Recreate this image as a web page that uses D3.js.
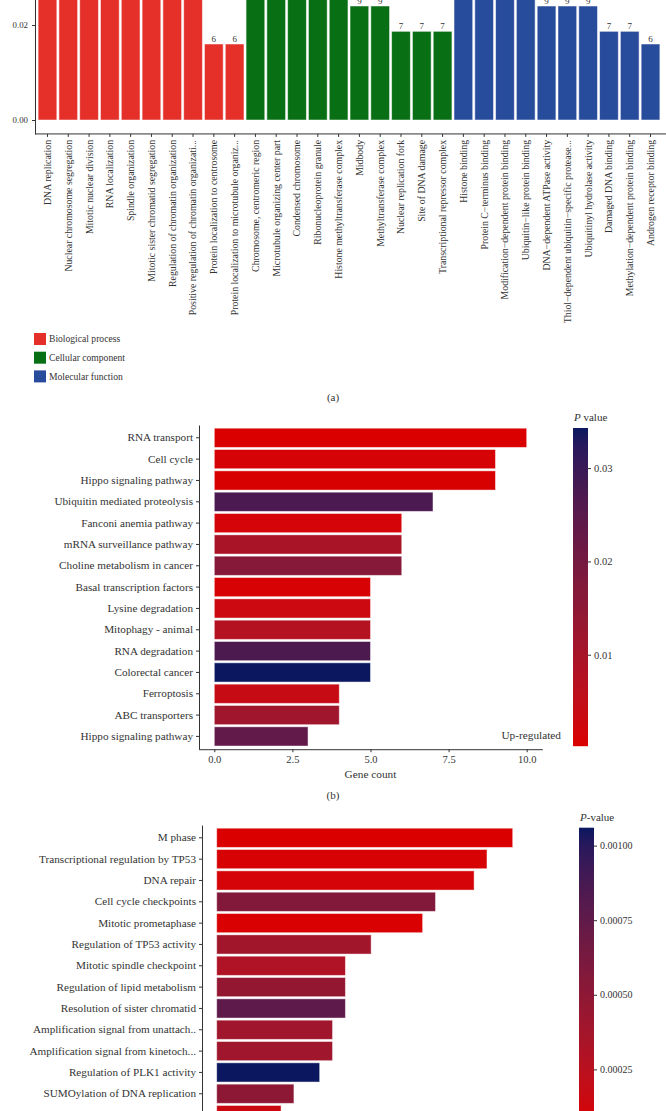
<!DOCTYPE html>
<html lang="en">
<head>
    <meta charset="UTF-8">
    <title>GO / KEGG / Reactome enrichment</title>
    <script src="https://d3js.org/d3.v7.min.js"></script>
    <style>
        body {margin: 0; background: #fff;}
        svg {display: block; font-family: "Liberation Serif", "DejaVu Serif", serif;}
    </style>
</head>
<body>
<script>
    const width = 666;
    const height = 1111;

    // ---- panel (a): GO terms ----
    const goTerms = [
        "DNA replication", "Nuclear chromosome segregation", "Mitotic nuclear division", "RNA localization",
        "Spindle organization", "Mitotic sister chromatid segregation", "Regulation of chromatin organization",
        "Positive regulation of chromatin organizati...", "Protein localization to centrosome",
        "Protein localization to microtubule organiz...",
        "Chromosome, centromeric region", "Microtubule organizing center part", "Condensed chromosome",
        "Ribonucleoprotein granule", "Histone methyltransferase complex", "Midbody", "Methyltransferase complex",
        "Nuclear replication fork", "Site of DNA damage", "Transcriptional repressor complex",
        "Histone binding", "Protein C\u2212terminus binding", "Modification\u2212dependent protein binding",
        "Ubiquitin\u2212like protein binding", "DNA\u2212dependent ATPase activity",
        "Thiol\u2212dependent ubiquitin\u2212specific protease...", "Ubiquitinyl hydrolase activity",
        "Damaged DNA binding", "Methylation\u2212dependent protein binding", "Androgen receptor binding"
    ];
    const goCategory = [
        "BP","BP","BP","BP","BP","BP","BP","BP","BP","BP",
        "CC","CC","CC","CC","CC","CC","CC","CC","CC","CC",
        "MF","MF","MF","MF","MF","MF","MF","MF","MF","MF"
    ];
    // gene counts (tall bars run off the top of the picture, estimated)
    const goCount = [
        22, 16, 14, 13, 12, 12, 11, 11, 6, 6,
        15, 13, 12, 11, 10, 9, 9, 7, 7, 7,
        16, 13, 12, 11, 9, 9, 9, 7, 7, 6
    ];
    const goTotal = 375;
    const categoryNames = ["Biological process", "Cellular component", "Molecular function"];
    const categoryKeys  = ["BP", "CC", "MF"];
    const categoryColors = ["#e5302a", "#086f14", "#284c9c"];

    // ---- panel (b): KEGG, up-regulated ----
    const keggTerms = [
        "RNA transport", "Cell cycle", "Hippo signaling pathway", "Ubiquitin mediated proteolysis",
        "Fanconi anemia pathway", "mRNA surveillance pathway", "Choline metabolism in cancer",
        "Basal transcription factors", "Lysine degradation", "Mitophagy - animal", "RNA degradation",
        "Colorectal cancer", "Ferroptosis", "ABC transporters", "Hippo signaling pathway "
    ];
    const keggCount = [10, 9, 9, 7, 6, 6, 6, 5, 5, 5, 5, 5, 4, 4, 3];
    const keggP = [0.0002, 0.0012, 0.0006, 0.0275, 0.0014, 0.0095, 0.0165, 0.0008, 0.0030,
                   0.0075, 0.0270, 0.0343, 0.0040, 0.0115, 0.0235];
    const keggXTicks = [0, 2.5, 5, 7.5, 10];
    const keggPTicks = [0.01, 0.02, 0.03];

    // ---- panel (c): Reactome ----
    const reacTerms = [
        "M phase", "Transcriptional regulation by TP53", "DNA repair", "Cell cycle checkpoints",
        "Mitotic prometaphase", "Regulation of TP53 activity", "Mitotic spindle checkpoint",
        "Regulation of lipid metabolism", "Resolution of sister chromatid",
        "Amplification signal from unattach..", "Amplification signal from kinetoch...",
        "Regulation of PLK1 activity", "SUMOylation of DNA replication", "Separation of sister chromatids"
    ];
    const reacCount = [23, 21, 20, 17, 16, 12, 10, 10, 10, 9, 9, 8, 6, 5];
    const reacP = [0.000064, 0.00008, 0.0001, 0.00056, 0.00007, 0.00038, 0.00031, 0.00046,
                   0.00076, 0.0004, 0.0004, 0.00106, 0.0005, 0.00015];
    const reacPTicks = [0.00025, 0.0005, 0.00075, 0.001];

    const lowColor = "#da0000";
    const highColor = "#0b1860";
    const textColor = "#333";

    const svg = d3.select("body").append("svg")
            .attr("width", width).attr("height", height);

    svg.append("rect").attr("width", width).attr("height", height).attr("fill", "white");

    drawGo();
    drawPathway({
        terms: keggTerms, counts: keggCount, pvals: keggP,
        top: 425, step: 21.33, axisX: 199, zeroX: 214.3, unit: 31.24, xMax: 10,
        xTicks: keggXTicks, pTicks: keggPTicks, pFormat: d3.format(".2f"), pFont: 10.5,
        barX: [573, 588], barTop: 428, pTitle: " value",
        xTitle: "Gene count", tag: "(b)", note: "Up-regulated"
    });
    drawPathway({
        terms: reacTerms, counts: reacCount, pvals: reacP,
        top: 825, step: 21.33, axisX: 202, zeroX: 216.7, unit: 12.87, xMax: 23,
        xTicks: [0, 5, 10, 15, 20], pTicks: reacPTicks, pFormat: d3.format(".5f"), pFont: 10,
        barX: [579, 594], barTop: 827.7, pTitle: "-value",
        xTitle: "Gene count", tag: "(c)", note: null
    });

    function drawGo() {
        const ratios = goCount.map(c => c / goTotal);
        const maxR = d3.max(ratios);
        const pxPerUnit = 4750;       // 0.01 -> 47.5 px
        const zeroY = 120;
        const y = d3.scaleLinear()
                .domain([-0.05 * maxR, 1.05 * maxR])
                .range([zeroY + 0.05 * maxR * pxPerUnit, zeroY - 1.05 * maxR * pxPerUnit]);
        const x = d3.scaleBand()
                .domain(goTerms)
                .range([35, 663])
                .paddingInner(0.1)
                .paddingOuter(0.15);
        const color = d3.scaleOrdinal().domain(categoryKeys).range(categoryColors);
        const bottom = y.range()[0];

        const g = svg.append("g").attr("class", "go");

        g.selectAll("rect.bar")
                .data(goTerms)
                .enter().append("rect")
                .attr("class", "bar")
                .attr("x", d => x(d))
                .attr("width", x.bandwidth())
                .attr("y", (d, i) => y(ratios[i]))
                .attr("height", (d, i) => y(0) - y(ratios[i]))
                .attr("fill", (d, i) => color(goCategory[i]))
                .attr("stroke", "white")
                .attr("stroke-opacity", 0.55)
                .attr("stroke-width", 0.9);

        g.selectAll("text.count")
                .data(goTerms)
                .enter().append("text")
                .attr("class", "count")
                .attr("x", d => x(d) + x.bandwidth() / 2)
                .attr("y", (d, i) => y(ratios[i]) - 2.5)
                .attr("text-anchor", "middle")
                .style("font-size", "9px")
                .style("fill", textColor)
                .text((d, i) => goCount[i]);

        const yAxis = g.append("g")
                .attr("transform", "translate(35,0)")
                .call(d3.axisLeft(y).tickValues([0, 0.02, 0.04]).tickFormat(d3.format(".2f")).tickSize(3).tickSizeOuter(0));
        styleAxis(yAxis, 8.8);
        yAxis.selectAll(".tick text").attr("x", -7);

        const xAxis = g.append("g")
                .attr("transform", "translate(0," + bottom + ")")
                .call(d3.axisBottom(x).tickSize(3).tickSizeOuter(0));
        styleAxis(xAxis, 9.8);
        xAxis.select(".domain").attr("d", "M35,0H666");
        xAxis.selectAll(".tick text")
                .attr("transform", "rotate(-90)")
                .attr("x", -6)
                .attr("y", 0)
                .attr("dy", "0.35em")
                .style("text-anchor", "end");

        // legend
        const legend = g.selectAll("g.legend")
                .data(categoryNames)
                .enter().append("g")
                .attr("class", "legend")
                .attr("transform", (d, i) => "translate(34," + (333 + i * 18.7) + ")");
        legend.append("rect")
                .attr("width", 12).attr("height", 12)
                .attr("fill", (d, i) => categoryColors[i]);
        legend.append("text")
                .attr("x", 15).attr("y", 6).attr("dy", "0.35em")
                .style("font-size", "9.6px")
                .style("fill", textColor)
                .text(d => d);

        svg.append("text")
                .attr("x", 333).attr("y", 401)
                .attr("text-anchor", "middle")
                .style("font-size", "11px")
                .style("fill", textColor)
                .text("(a)");
    }

    function drawPathway(o) {
        const n = o.terms.length;
        const y = d3.scaleBand()
                .domain(o.terms)
                .range([o.top, o.top + o.step * (n + 0.2)])
                .paddingInner(0.1)
                .paddingOuter(0.15);
        const bottom = y.range()[1];
        const pad = 0.05 * o.xMax;
        const x = d3.scaleLinear()
                .domain([-pad, o.xMax + pad])
                .range([o.zeroX - pad * o.unit, o.zeroX + (o.xMax + pad) * o.unit]);
        const pExtent = d3.extent(o.pvals);
        // ggplot-like gradient, interpolated in Lab space
        const color = d3.scaleLinear()
                .domain(pExtent)
                .range([lowColor, highColor])
                .interpolate(d3.interpolateLab);

        const g = svg.append("g");

        g.selectAll("rect.bar")
                .data(o.terms)
                .enter().append("rect")
                .attr("class", "bar")
                .attr("x", x(0))
                .attr("y", d => y(d))
                .attr("height", y.bandwidth())
                .attr("width", (d, i) => x(o.counts[i]) - x(0))
                .attr("fill", (d, i) => color(o.pvals[i]))
                .attr("stroke", "white")
                .attr("stroke-opacity", 0.5)
                .attr("stroke-width", 0.9);

        const yAxis = g.append("g")
                .attr("transform", "translate(" + o.axisX + ",0)")
                .call(d3.axisLeft(y).tickSize(3).tickSizeOuter(0));
        styleAxis(yAxis, 11.2);
        yAxis.selectAll(".tick text").attr("x", -6);

        const xAxis = g.append("g")
                .attr("transform", "translate(0," + bottom + ")")
                .call(d3.axisBottom(x).tickValues(o.xTicks).tickFormat(d3.format(".1f")).tickSize(3).tickSizeOuter(0));
        styleAxis(xAxis, 10.5);

        g.append("text")
                .attr("x", (x(0) + x(o.xMax)) / 2).attr("y", bottom + 29)
                .attr("text-anchor", "middle")
                .style("font-size", "11.3px")
                .style("fill", textColor)
                .text(o.xTitle);

        g.append("text")
                .attr("x", 333).attr("y", bottom + 50)
                .attr("text-anchor", "middle")
                .style("font-size", "11px")
                .style("fill", textColor)
                .text(o.tag);

        if (o.note) {
            g.append("text")
                    .attr("x", 561).attr("y", bottom - 10)
                    .attr("text-anchor", "end")
                    .style("font-size", "11.3px")
                    .style("fill", textColor)
                    .text(o.note);
        }

        // colour bar
        const cbBottom = bottom - 3;
        const cb = d3.scaleLinear().domain(pExtent).range([cbBottom, o.barTop]);
        const gradId = "grad" + o.top;
        const grad = svg.append("defs").append("linearGradient")
                .attr("id", gradId)
                .attr("x1", 0).attr("y1", 1).attr("x2", 0).attr("y2", 0);
        d3.range(0, 1.0001, 0.05).forEach(t => {
            grad.append("stop")
                    .attr("offset", t)
                    .attr("stop-color", color(pExtent[0] + t * (pExtent[1] - pExtent[0])));
        });
        g.append("rect")
                .attr("x", o.barX[0]).attr("y", o.barTop)
                .attr("width", o.barX[1] - o.barX[0])
                .attr("height", cbBottom - o.barTop)
                .attr("fill", "url(#" + gradId + ")");

        const cbAxis = g.append("g")
                .attr("transform", "translate(" + o.barX[1] + ",0)")
                .call(d3.axisRight(cb).tickValues(o.pTicks).tickFormat(o.pFormat).tickSize(3));
        styleAxis(cbAxis, o.pFont);
        cbAxis.select(".domain").remove();

        const title = g.append("text")
                .attr("x", o.barX[0] + 1).attr("y", o.barTop - 7)
                .style("font-size", "11px")
                .style("fill", textColor);
        title.append("tspan").style("font-style", "italic").text("P");
        title.append("tspan").text(o.pTitle);
    }

    function styleAxis(axis, fontSize) {
        axis.select(".domain").attr("stroke", "#333").attr("stroke-width", 1);
        axis.selectAll(".tick line").attr("stroke", "#333");
        axis.selectAll(".tick text")
                .style("font-family", "'Liberation Serif', 'DejaVu Serif', serif")
                .style("font-size", fontSize + "px")
                .style("fill", textColor);
    }
</script>
</body>
</html>
